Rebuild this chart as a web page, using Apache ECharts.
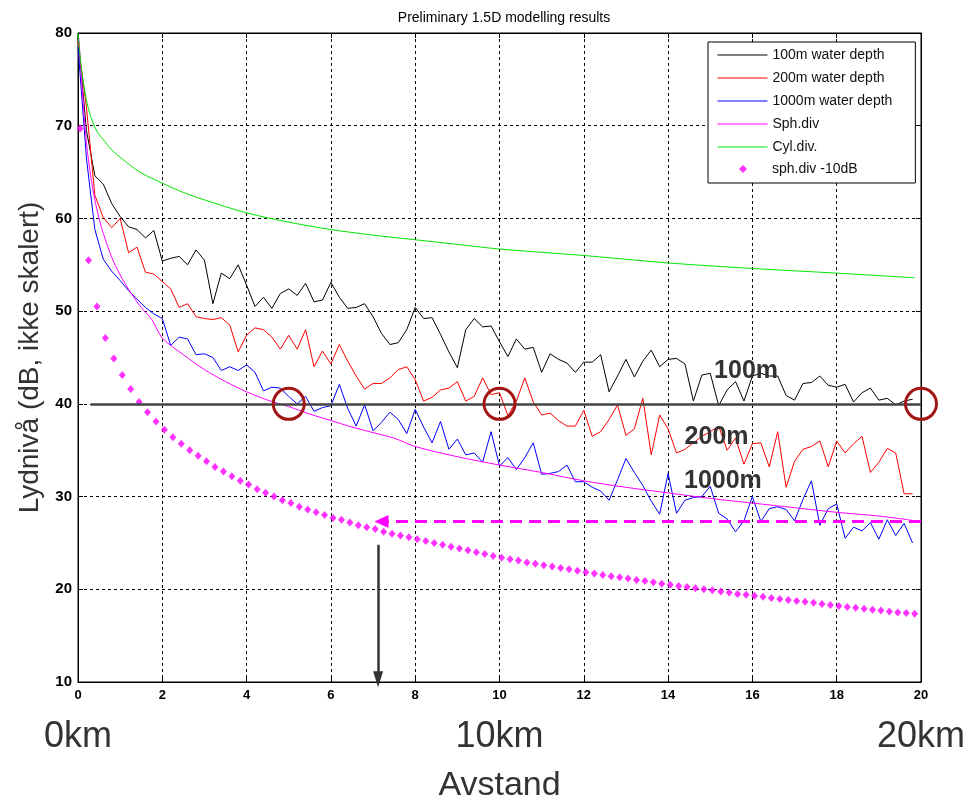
<!DOCTYPE html>
<html>
<head>
<meta charset="utf-8">
<script src="https://cdn.jsdelivr.net/npm/echarts@6/dist/echarts.min.js"></script>
<style>
html,body{margin:0;padding:0;background:#fff;}
#chart{width:971px;height:802px;}
</style>
</head>
<body>
<div id="chart"></div>
<script>
// ---------- data ----------
const distX = [0,0.2,0.4,0.6,0.8,1.0,1.2,1.4,1.6,1.8,2.0,2.2,2.4,2.6,2.8,3.0,3.2,3.4,3.6,3.8,
  4.0,4.2,4.4,4.6,4.8,5.0,5.2,5.4,5.6,5.8,6.0,6.2,6.4,6.6,6.8,7.0,7.2,7.4,7.6,7.8,
  8.0,8.2,8.4,8.6,8.8,9.0,9.2,9.4,9.6,9.8,10.0,10.2,10.4,10.6,10.8,11.0,11.2,11.4,11.6,11.8,
  12.0,12.2,12.4,12.6,12.8,13.0,13.2,13.4,13.6,13.8,14.0,14.2,14.4,14.6,14.8,15.0,15.2,15.4,15.6,15.8,
  16.0,16.2,16.4,16.6,16.8,17.0,17.2,17.4,17.6,17.8,18.0,18.2,18.4,18.6,18.8,19.0,19.2,19.4,19.6,19.8];

const depth100 = [79.5,69.5,64.6,63.7,61.6,60.2,59.1,58.8,57.9,58.7,55.4,55.7,55.9,55.0,56.6,55.5,50.8,54.1,53.5,55.0,
  52.8,50.5,51.5,50.3,51.9,52.4,51.7,53.0,51.0,51.2,53.1,51.5,50.3,50.4,50.8,49.4,47.6,46.4,46.6,48.0,
  50.4,49.2,49.3,47.5,45.6,43.9,48.0,49.2,48.3,48.4,46.7,45.1,47.0,45.9,46.1,43.4,45.4,44.8,44.4,43.4,
  44.5,44.5,45.3,41.3,43.0,44.8,42.9,44.6,45.8,44.0,44.8,44.9,44.3,40.3,43.1,43.3,39.8,41.5,42.4,40.3,
  43.0,43.3,43.0,43.0,40.9,40.4,42.2,42.3,43.0,42.0,41.8,42.1,40.2,41.2,41.7,40.4,40.6,39.9,40.3,40.5];

const depth200 = [79.0,72.0,62.5,60.1,59.0,60.0,56.3,56.9,54.2,54.0,53.2,52.4,50.4,50.8,49.4,49.2,49.1,49.3,48.5,45.6,
  47.4,48.2,48.0,47.2,45.9,47.4,45.9,48.0,44.0,45.7,44.3,46.4,44.6,43.0,41.6,42.2,42.2,42.8,43.7,44.0,
  42.6,40.3,40.7,41.5,41.7,42.4,40.3,40.8,42.8,41.0,41.2,38.7,40.3,42.8,40.2,38.8,39.0,38.2,37.6,37.6,
  39.3,36.5,37.0,38.3,39.9,36.6,37.3,40.6,34.5,38.8,37.3,34.7,35.1,35.8,36.5,37.0,37.6,35.0,36.3,33.5,
  35.7,35.8,33.2,37.0,31.0,33.8,35.1,35.4,36.0,33.2,36.0,34.7,35.7,36.5,32.6,33.7,35.2,34.7,30.3,30.3];

const depth1000 = [78.5,66.5,58.8,55.6,54.3,53.3,52.2,51.3,50.4,49.7,49.2,46.3,47.2,47.0,45.3,45.4,45.0,43.6,44.0,43.6,
  44.2,43.4,41.4,41.8,41.7,40.8,40.0,40.8,39.2,39.6,39.8,42.1,39.5,37.6,39.9,37.1,38.0,39.1,38.3,36.8,
  39.4,37.5,35.8,38.1,35.1,36.2,34.5,34.7,33.7,37.0,33.3,34.2,32.9,34.2,35.8,32.4,32.5,32.7,33.4,31.6,
  31.6,31.0,30.6,29.6,31.8,34.1,32.6,31.2,29.5,28.1,32.5,28.2,29.6,29.9,30.0,31.1,28.2,27.6,26.2,27.4,
  30.0,27.3,28.7,28.9,28.6,27.4,29.7,31.7,26.9,28.7,29.2,25.5,26.7,26.3,27.2,25.4,27.5,25.8,27.1,25.0];

const sphX = [0.02,0.1,0.2,0.3,0.4,0.5,0.6,0.8,1.0,1.25,1.5,1.75,2,2.5,3,3.5,4,4.5,5,5.5,6,6.5,7,7.5,8,9,10,11,12,13,14,15,16,17,18,19,19.85];
const sphY = [79.5,74.0,68.2,64.6,62.0,60.0,58.4,55.8,53.9,52.0,50.4,49.1,47.1,45.3,43.7,42.4,41.3,40.4,39.7,38.9,38.2,37.5,36.9,36.3,35.4,34.3,33.4,32.6,31.7,31.0,30.4,29.8,29.3,28.8,28.3,27.9,27.4];

const cylX = [0,0.05,0.1,0.2,0.3,0.45,0.6,0.8,1.0,1.25,1.5,2,2.5,3,4,5,6,7,8,9,10,12,14,16,18,19.85];
const cylY = [80,77.5,75.5,72.8,71.0,69.4,68.5,67.4,66.6,65.7,64.9,63.8,62.8,62.0,60.6,59.6,58.8,58.2,57.7,57.2,56.7,56.0,55.2,54.6,54.1,53.6];

const dotX = [0.05,0.25,0.45,0.65,0.85,1.05,1.25,1.45,1.65,1.85,2.05,2.25,2.45,2.65,2.85,3.05,3.25,3.45,3.65,3.85,
  4.05,4.25,4.45,4.65,4.85,5.05,5.25,5.45,5.65,5.85,6.05,6.25,6.45,6.65,6.85,7.05,7.25,7.45,7.65,7.85,
  8.05,8.25,8.45,8.65,8.85,9.05,9.25,9.45,9.65,9.85,10.05,10.25,10.45,10.65,10.85,11.05,11.25,11.45,11.65,11.85,
  12.05,12.25,12.45,12.65,12.85,13.05,13.25,13.45,13.65,13.85,14.05,14.25,14.45,14.65,14.85,15.05,15.25,15.45,15.65,15.85,
  16.05,16.25,16.45,16.65,16.85,17.05,17.25,17.45,17.65,17.85,18.05,18.25,18.45,18.65,18.85,19.05,19.25,19.45,19.65,19.85];
const dotY = [69.7,55.5,50.5,47.1,44.9,43.1,41.6,40.2,39.1,38.1,37.2,36.4,35.7,35.0,34.4,33.8,33.2,32.7,32.2,31.7,
  31.3,30.8,30.4,30.0,29.6,29.3,28.9,28.6,28.3,28.0,27.7,27.5,27.2,26.9,26.7,26.5,26.2,26.0,25.8,25.6,
  25.4,25.2,25.0,24.8,24.6,24.4,24.2,24.0,23.8,23.6,23.4,23.25,23.1,22.9,22.75,22.6,22.45,22.3,22.15,22.0,
  21.85,21.7,21.55,21.4,21.3,21.15,21.0,20.9,20.75,20.6,20.5,20.35,20.25,20.1,20.0,19.9,19.75,19.65,19.5,19.4,
  19.3,19.2,19.05,18.95,18.85,18.75,18.65,18.55,18.4,18.3,18.2,18.1,18.0,17.9,17.8,17.7,17.6,17.5,17.45,17.35];

const seriesNames = ['100m water depth','200m water depth','1000m water depth','Sph.div','Cyl.div.','sph.div -10dB'];
const kmTicks = [0, 10, 20];
const depthLabels = [
  {text:'100m', x:15.85, y:43.55},
  {text:'200m', x:15.15, y:36.4},
  {text:'1000m', x:15.3, y:31.7}
];
const circleCenters = [[5,40],[10,40],[20,40]];
const refLevel = 40;
const dashArrowLevel = 27.3;
const dashArrowFrom = 20, dashArrowTo = 7.2;
const vArrowX = 7.12, vArrowTop = 24.8, vArrowBottom = 10.3;

// ---------- chart ----------
const pairs = (xs, ys) => xs.map((x, i) => [x, ys[i]]);
const chart = echarts.init(document.getElementById('chart'), null, {renderer:'canvas'});
const tickFont = {fontFamily:'Liberation Sans, Arial, sans-serif', fontWeight:'bold', color:'#000'};
const gridDash = {color:'#000', type:[3,3], width:1};

const option = {
  backgroundColor:'#fff',
  animation:false,
  title:{text:'Preliminary 1.5D modelling results', left:499, top:6, textAlign:'center',
    textStyle:{fontFamily:'Liberation Sans, Arial', fontSize:14, fontWeight:'normal', color:'#000'}},
  grid:{left:78, right:50, top:33, bottom:120, show:true, borderColor:'#000', borderWidth:1,
        backgroundColor:'transparent', containLabel:false, outerBoundsMode:'none'},
  legend:[
    {data:seriesNames.slice(0,5), orient:'vertical', left:708, top:42, itemWidth:50, itemHeight:14, itemGap:9,
     padding:[6,23,29,9], backgroundColor:'#fff', borderColor:'#000', borderWidth:1, borderRadius:0, z:10,
     itemStyle:{opacity:0}, lineStyle:{width:1},
     textStyle:{fontFamily:'Liberation Sans, Arial', fontSize:14, color:'#111'}},
    {data:[seriesNames[5]], orient:'vertical', left:739, top:162, itemWidth:8, itemHeight:8, padding:0, z:11,
     textStyle:{fontFamily:'Liberation Sans, Arial', fontSize:14, color:'#111', padding:[0,0,0,20]}}
  ],
  xAxis:[
    {type:'value', min:0, max:20, interval:2, position:'bottom',
     axisLine:{show:true, onZero:false, lineStyle:{color:'#000', width:1}},
     axisTick:{show:true, inside:true, length:5, lineStyle:{color:'#000'}},
     axisLabel:Object.assign({fontSize:13, margin:7}, tickFont),
     splitLine:{show:true, lineStyle:gridDash}},
    {type:'value', min:0, max:20, interval:2, position:'top',
     axisLine:{show:true, onZero:false, lineStyle:{color:'#000'}},
     axisTick:{show:true, inside:true, length:5, lineStyle:{color:'#000'}},
     axisLabel:{show:false}, splitLine:{show:false}},
    {type:'value', min:kmTicks[0], max:kmTicks[2], interval:kmTicks[1]-kmTicks[0], position:'bottom', offset:33,
     axisLine:{show:false}, axisTick:{show:false}, splitLine:{show:false},
     axisLabel:{fontSize:36, margin:4, color:'#333', fontFamily:'Liberation Sans, Arial', formatter:'{value}km'},
     name:'Avstand', nameLocation:'middle', nameGap:54,
     nameTextStyle:{fontSize:34, color:'#333', fontFamily:'Liberation Sans, Arial'}}
  ],
  yAxis:[
    {type:'value', min:10, max:80, interval:10, position:'left',
     axisLine:{show:true, onZero:false, lineStyle:{color:'#000', width:1}},
     axisTick:{show:true, inside:true, length:5, lineStyle:{color:'#000'}},
     axisLabel:Object.assign({fontSize:15, margin:6}, tickFont),
     splitLine:{show:true, lineStyle:gridDash},
     name:'Lydnivå (dB, ikke skalert)', nameLocation:'middle', nameGap:30, nameRotate:90,
     nameTextStyle:{fontSize:28, color:'#333', fontFamily:'Liberation Sans, Arial'}},
    {type:'value', min:10, max:80, interval:10, position:'right',
     axisLine:{show:true, onZero:false, lineStyle:{color:'#000'}},
     axisTick:{show:true, inside:true, length:5, lineStyle:{color:'#000'}},
     axisLabel:{show:false}, splitLine:{show:false}}
  ],
  series:[
    {name:seriesNames[0], type:'line', data:pairs(distX, depth100), symbol:'none', lineStyle:{color:'#000', width:1}, itemStyle:{color:'#000'}},
    {name:seriesNames[1], type:'line', data:pairs(distX, depth200), symbol:'none', lineStyle:{color:'#ff0000', width:1}, itemStyle:{color:'#ff0000'}},
    {name:seriesNames[2], type:'line', data:pairs(distX, depth1000), symbol:'none', lineStyle:{color:'#0000ff', width:1}, itemStyle:{color:'#0000ff'}},
    {name:seriesNames[3], type:'line', data:pairs(sphX, sphY), symbol:'none', smooth:0.3, lineStyle:{color:'#ff00ff', width:1}, itemStyle:{color:'#ff00ff'}},
    {name:seriesNames[4], type:'line', data:pairs(cylX, cylY), symbol:'none', smooth:0.3, lineStyle:{color:'#00e600', width:1}, itemStyle:{color:'#00e600'}},
    {name:seriesNames[5], type:'scatter', data:pairs(dotX, dotY), symbol:'diamond', symbolSize:[7,8], itemStyle:{color:'#ff00ff'}},
    {name:'annotations', type:'line', data:[], silent:true, z:5,
     markLine:{silent:true, animation:false, label:{show:false},
       data:[
         [{coord:[0.3, refLevel], symbol:'none', lineStyle:{color:'#444', width:2.5, type:'solid'}},
          {coord:[20, refLevel], symbol:'none'}],
         [{coord:[dashArrowFrom, dashArrowLevel], symbol:'none', lineStyle:{color:'#ff00ff', width:3, type:[12,7]}},
          {coord:[dashArrowTo, dashArrowLevel], symbol:'triangle', symbolSize:[13,14]}],
         [{coord:[vArrowX, vArrowTop], symbol:'none', lineStyle:{color:'#333', width:2.5, type:'solid'}},
          {coord:[vArrowX, vArrowBottom], symbol:'triangle', symbolSize:[10,16]}]
       ]},
     markPoint:{silent:true, animation:false,
       data: circleCenters.map(c => ({coord:c, symbol:'circle', symbolSize:31,
          itemStyle:{color:'transparent', borderColor:'#a31515', borderWidth:3}, label:{show:false}}))
         .concat(depthLabels.map(d => ({coord:[d.x, d.y], symbol:'circle', symbolSize:1,
          itemStyle:{color:'transparent'},
          label:{show:true, position:'inside', formatter:d.text, fontSize:25, fontWeight:'bold',
                 color:'#333', fontFamily:'Liberation Sans, Arial'}})))
     }}
  ]
};
chart.setOption(option);
</script>
</body>
</html>
